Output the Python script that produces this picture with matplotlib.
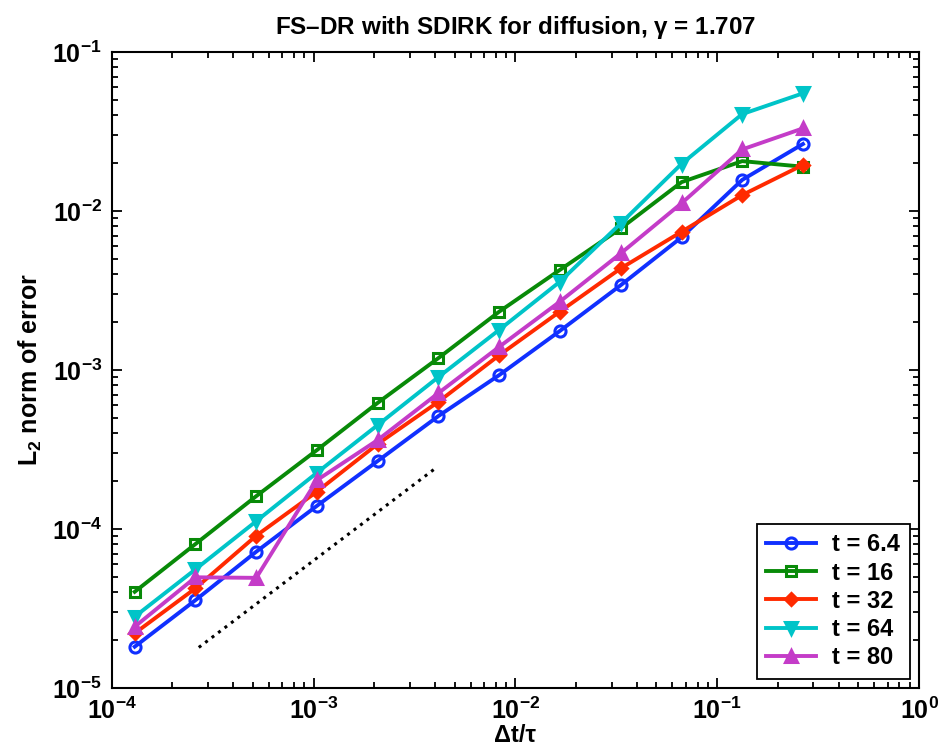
import matplotlib
matplotlib.use("Agg")
import matplotlib.pyplot as plt
from matplotlib.ticker import LogLocator, NullFormatter

plt.rcParams['font.family'] = ['Liberation Sans', 'DejaVu Sans']
plt.rcParams['font.weight'] = 'bold'
plt.rcParams['mathtext.fontset'] = 'custom'
plt.rcParams['mathtext.rm'] = 'Liberation Sans:bold'
plt.rcParams['mathtext.it'] = 'Liberation Sans:bold:italic'
plt.rcParams['mathtext.bf'] = 'Liberation Sans:bold'
plt.rcParams['mathtext.default'] = 'rm'

# Data
dt = [1.3e-4, 2.6e-4, 5.2e-4, 1.04e-3, 2.08e-3, 4.16e-3,
      8.32e-3, 1.66e-2, 3.33e-2, 6.66e-2, 0.133, 0.266]

err_t6_4 = [1.82e-5, 3.57e-5, 7.20e-5, 1.40e-4, 2.68e-4, 5.14e-4,
            9.30e-4, 1.76e-3, 3.42e-3, 6.84e-3, 1.57e-2, 2.64e-2]
err_t16 = [4.03e-5, 8.05e-5, 1.61e-4, 3.14e-4, 6.22e-4, 1.19e-3,
           2.33e-3, 4.26e-3, 7.78e-3, 1.52e-2, 2.06e-2, 1.90e-2]
err_t32 = [2.21e-5, 4.24e-5, 9.08e-5, 1.72e-4, 3.43e-4, 6.32e-4,
           1.24e-3, 2.33e-3, 4.36e-3, 7.41e-3, 1.26e-2, 1.95e-2]
err_t64 = [2.81e-5, 5.58e-5, 1.12e-4, 2.26e-4, 4.51e-4, 9.04e-4,
           1.79e-3, 3.59e-3, 8.37e-3, 1.98e-2, 4.07e-2, 5.50e-2]
err_t80 = [2.43e-5, 4.97e-5, 4.93e-5, 2.03e-4, 3.63e-4, 7.17e-4,
           1.40e-3, 2.69e-3, 5.42e-3, 1.12e-2, 2.44e-2, 3.31e-2]

labels = ["t = 6.4", "t = 16", "t = 32", "t = 64", "t = 80"]

# reference slope line
ref_x = [2.7e-4, 4.0e-3]
ref_y = [1.8e-5, 2.4e-4]

series = [err_t6_4, err_t16, err_t32, err_t64, err_t80]
colors = ["#1030FF", "#088A08", "#FF2A00", "#00C4C8", "#C43CC8"]
markers = ["o", "s", "D", "v", "^"]
filled = [False, False, True, True, True]
msizes = [8, 7, 6.5, 9, 9]

fig = plt.figure(figsize=(9.5, 7.54), dpi=100)
ax = fig.add_axes([0.1176, 0.0875, 0.8498, 0.8435])

for y, c, m, f, ms, lab in zip(series, colors, markers, filled, msizes, labels):
    ax.loglog(dt, y, color=c, marker=m, lw=2.8, ms=ms, mew=2.2,
              mfc=c if f else 'none', mec=c, label=lab)

ax.loglog(ref_x, ref_y, color='black', ls=':', lw=2.2)

ax.set_xlim(1e-4, 1e0)
ax.set_ylim(1e-5, 1e-1)
ax.xaxis.set_major_locator(LogLocator(base=10, numticks=10))
ax.yaxis.set_major_locator(LogLocator(base=10, numticks=10))
ax.xaxis.set_minor_locator(LogLocator(base=10, subs=range(2, 10), numticks=20))
ax.yaxis.set_minor_locator(LogLocator(base=10, subs=range(2, 10), numticks=20))
ax.xaxis.set_minor_formatter(NullFormatter())
ax.yaxis.set_minor_formatter(NullFormatter())

ax.tick_params(which='both', direction='in', top=True, right=True,
               labelsize=18, width=1.3)
ax.tick_params(which='major', length=7, pad=7)
ax.tick_params(which='minor', length=4)
for sp in ax.spines.values():
    sp.set_linewidth(1.5)

ax.set_title("FS\u2013DR with SDIRK for diffusion, $\\gamma$ = 1.707",
             fontsize=17.5, fontweight='bold', pad=13)
ax.set_xlabel("\u0394t/\u03c4", fontsize=17, fontweight='bold', labelpad=0)
ax.set_ylabel("L$_2$ norm of error", fontsize=18, fontweight='bold', labelpad=6)

leg = ax.legend(loc='lower right', fontsize=17, fancybox=False,
                edgecolor='black', framealpha=1, borderaxespad=0.4,
                handlelength=2.1, labelspacing=0.22, borderpad=0.4,
                handletextpad=0.7)
leg.get_frame().set_linewidth(1.3)

fig.savefig("out.png", dpi=100)
